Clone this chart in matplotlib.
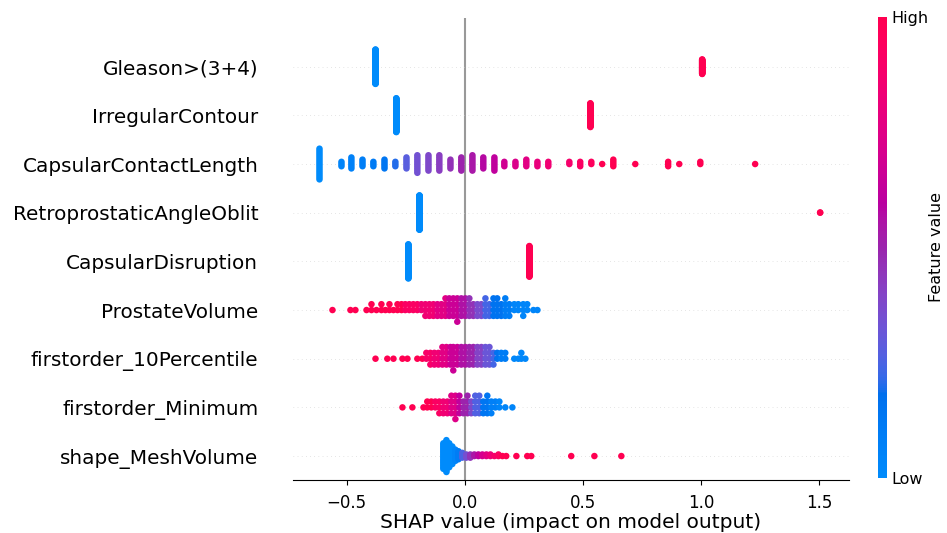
import numpy as np
import matplotlib
matplotlib.use("Agg")
import matplotlib.pyplot as plt
from matplotlib.colors import LinearSegmentedColormap, Normalize
from matplotlib.cm import ScalarMappable

# features from top to bottom
features = ["Gleason>(3+4)", "IrregularContour", "CapsularContactLength",
            "RetroprostaticAngleOblit", "CapsularDisruption", "ProstateVolume",
            "firstorder_10Percentile", "firstorder_Minimum", "shape_MeshVolume"]

# for every feature: SHAP values, number of patients stacked
# on that value, and the (normalised) feature value that sets the colour
gleason_shap = [-0.378, 1.004]
gleason_count = [105, 45]
gleason_color = [0.0, 1.0]

irregular_shap = [-0.290, 0.531]
irregular_count = [88, 62]
irregular_color = [0.0, 1.0]

ccl_shap = [-0.615, -0.522, -0.480, -0.433, -0.387, -0.340, -0.294, -0.247, -0.201,
            -0.154, -0.108, -0.061, -0.015, 0.032, 0.078, 0.125, 0.167, 0.214, 0.260,
            0.307, 0.353, 0.442, 0.488, 0.535, 0.581, 0.628, 0.721, 0.860, 0.907,
            0.996, 1.228]
ccl_count = [15, 3, 6, 4, 3, 5, 3, 6, 9, 8, 8, 5, 7, 8, 6, 7, 3, 3, 4, 3, 3,
             2, 3, 2, 1, 4, 1, 3, 1, 2, 1]
ccl_color = [0.0, 0.05, 0.07, 0.09, 0.11, 0.14, 0.2, 0.28, 0.34, 0.38, 0.42, 0.46,
             0.5, 0.54, 0.58, 0.62, 0.68, 0.72, 0.76, 0.8, 0.84, 0.88, 0.92, 0.95,
             1.0, 1.0, 1.0, 1.0, 1.0, 1.0, 1.0]

retro_shap = [-0.192, 1.503]
retro_count = [148, 2]
retro_color = [0.0, 1.0]

disrupt_shap = [-0.239, 0.273]
disrupt_count = [79, 71]
disrupt_color = [0.0, 1.0]

volume_shap = [-0.560, -0.484, -0.463, -0.416, -0.395, -0.374, -0.353, -0.336, -0.319,
               -0.302, -0.285, -0.268, -0.252, -0.235, -0.218, -0.201, -0.184, -0.167,
               -0.150, -0.133, -0.116, -0.099, -0.082, -0.066, -0.049, -0.032, -0.015,
               0.002, 0.019, 0.036, 0.053, 0.070, 0.087, 0.104, 0.121, 0.137, 0.154,
               0.171, 0.188, 0.209, 0.226, 0.247, 0.264, 0.290, 0.307]
volume_count = [1, 1, 1, 1, 2, 1, 2, 1, 2, 1, 2, 2, 2, 2, 2, 2, 2, 3, 3, 3, 3, 3,
                4, 4, 4, 5, 4, 4, 4, 3, 3, 3, 4, 3, 4, 4, 3, 4, 3, 2, 2, 3, 2, 1, 1]
volume_color = [1.0] * 12 + [0.92] * 4 + [0.84] * 4 + [0.76] * 3 + [0.66] * 3 + \
               [0.56] * 2 + [0.46] * 2 + [0.36] * 2 + [0.24] * 2 + [0.16] * 3 + \
               [0.1] * 2 + [0.04] * 6

p10_shap = [-0.378, -0.328, -0.302, -0.264, -0.243, -0.201, -0.180, -0.163, -0.146,
            -0.129, -0.112, -0.095, -0.078, -0.061, -0.049, -0.032, -0.015, 0.002,
            0.019, 0.036, 0.053, 0.070, 0.087, 0.104, 0.121, 0.137, 0.154, 0.171,
            0.209, 0.226, 0.239, 0.256]
p10_count = [1, 1, 1, 1, 1, 1, 1, 2, 3, 3, 3, 4, 4, 4, 5, 4, 4, 4, 4, 4, 4, 4, 4,
             4, 3, 2, 2, 2, 1, 1, 2, 1]
p10_color = [1.0] * 7 + [0.9] * 2 + [0.84] * 2 + [0.76] * 2 + [0.66] * 3 + \
            [0.56] * 2 + [0.5] * 2 + [0.4] * 2 + [0.32] * 2 + [0.24, 0.16] + \
            [0.1] * 2 + [0.03] * 4

minimum_shap = [-0.264, -0.222, -0.175, -0.159, -0.142, -0.125, -0.108, -0.091, -0.074,
                -0.057, -0.040, -0.023, -0.006, 0.011, 0.027, 0.044, 0.061, 0.078,
                0.095, 0.112, 0.129, 0.146, 0.171, 0.201]
minimum_count = [1, 1, 1, 2, 2, 2, 3, 3, 3, 4, 5, 4, 3, 4, 3, 4, 4, 3, 4, 3, 2, 2, 1, 1]
minimum_color = [1.0] * 5 + [0.92] * 2 + [0.84] * 2 + [0.74] * 2 + [0.62] + \
                [0.5] * 2 + [0.38] + [0.26] * 2 + [0.14] * 2 + [0.08] * 2 + [0.04] * 3

mesh_shap = [-0.091, -0.078, -0.066, -0.053, -0.040, -0.027, -0.011, 0.006, 0.023,
             0.040, 0.057, 0.074, 0.091, 0.108, 0.125, 0.142, 0.159, 0.175, 0.218,
             0.264, 0.281, 0.450, 0.548, 0.662]
mesh_count = [17, 21, 16, 12, 8, 6, 4, 3, 3, 2, 2, 2, 2, 2, 1, 2, 1, 1, 1, 1, 1, 1, 1, 1]
mesh_color = [0.0] * 4 + [0.04, 0.1, 0.25, 0.35, 0.45, 0.55, 0.62, 0.7, 0.76, 0.82,
                          0.88, 0.92] + [1.0] * 8

rows = {
    "Gleason>(3+4)": (gleason_shap, gleason_count, gleason_color),
    "IrregularContour": (irregular_shap, irregular_count, irregular_color),
    "CapsularContactLength": (ccl_shap, ccl_count, ccl_color),
    "RetroprostaticAngleOblit": (retro_shap, retro_count, retro_color),
    "CapsularDisruption": (disrupt_shap, disrupt_count, disrupt_color),
    "ProstateVolume": (volume_shap, volume_count, volume_color),
    "firstorder_10Percentile": (p10_shap, p10_count, p10_color),
    "firstorder_Minimum": (minimum_shap, minimum_count, minimum_color),
    "shape_MeshVolume": (mesh_shap, mesh_count, mesh_color),
}


def lab_to_rgb(L, a, b):
    fy = (L + 16.) / 116.
    fx = fy + a / 500.
    fz = fy - b / 200.

    def finv(t):
        return t ** 3 if t > 6. / 29 else 3 * (6. / 29) ** 2 * (t - 4. / 29)

    X, Y, Z = 0.95047 * finv(fx), finv(fy), 1.08883 * finv(fz)
    lin = np.array([3.2405 * X - 1.5372 * Y - 0.4985 * Z,
                    -0.9693 * X + 1.8760 * Y + 0.0416 * Z,
                    0.0556 * X - 0.2040 * Y + 1.0573 * Z])
    lin = np.clip(lin, 0, None)
    rgb = np.where(lin > 0.0031308, 1.055 * lin ** (1 / 2.4) - 0.055, 12.92 * lin)
    return np.clip(rgb, 0, 1)


def red_blue_cmap():
    # blue -> purple -> red, interpolated in LCH like shap does
    l_vals = np.concatenate([np.linspace(54., 40., 50), np.linspace(40., 54., 50)])
    c_vals = np.linspace(70., 90., 100)
    h_vals = np.linspace(4.6588, 0.35470565 + 2 * np.pi, 100)
    cols = [lab_to_rgb(l, c * np.cos(h), c * np.sin(h))
            for l, c, h in zip(l_vals, c_vals, h_vals)]
    return LinearSegmentedColormap.from_list("red_blue", cols)


def swarm_offsets(shaps, row_height=0.4, nbins=100):
    shaps = np.asarray(shaps, dtype=float)
    quant = np.round(nbins * (shaps - shaps.min()) / (shaps.max() - shaps.min() + 1e-8))
    ys = np.zeros(len(shaps))
    layer, last_bin = 0, -1
    for i in np.argsort(quant, kind="stable"):
        if quant[i] != last_bin:
            layer = 0
        ys[i] = np.ceil(layer / 2) * ((layer % 2) * 2 - 1)
        layer += 1
        last_bin = quant[i]
    ys *= 0.9 * (row_height / np.max(ys + 1))
    return ys


cmap = red_blue_cmap()

fig = plt.figure(figsize=(9.47, 5.33), dpi=100)
ax = fig.add_axes([0.3094, 0.0987, 0.5871, 0.8675])
ax.axvline(0, color="#999999", zorder=-1)

n = len(features)
for i, name in enumerate(features):
    pos = n - 1 - i
    shap_vals, counts, colors = rows[name]
    x = np.repeat(shap_vals, counts)
    c = np.repeat(colors, counts)
    ax.axhline(pos, color="#cccccc", lw=0.5, dashes=(1, 5), zorder=-1)
    ax.scatter(x, pos + swarm_offsets(x), c=c, cmap=cmap, vmin=0, vmax=1,
               s=22, linewidth=0, zorder=3)

ax.set_yticks(range(n))
ax.set_yticklabels(features[::-1], fontsize=14.4)
ax.tick_params('y', length=0, pad=25)
ax.tick_params('x', labelsize=12, pad=6)
ax.set_ylim(-0.5, 9)
ax.set_xlim(-0.727, 1.625)
for side in ["top", "right", "left"]:
    ax.spines[side].set_visible(False)
ax.set_xlabel("SHAP value (impact on model output)", fontsize=14.5)
ax.xaxis.set_label_coords(0.5, -0.102)
ax.xaxis.label.set_va("baseline")

cax = fig.add_axes([878 / 947, 1 - 478 / 533, 9 / 947, 461 / 533])
cb = fig.colorbar(ScalarMappable(norm=Normalize(0, 1), cmap=cmap), cax=cax, ticks=[0, 1])
cb.set_ticklabels(["Low", "High"])
cb.ax.tick_params(labelsize=11.5, length=0)
cb.set_label("Feature value", size=11.5, labelpad=0)
cb.outline.set_visible(False)

fig.savefig("out.png", dpi=100)
